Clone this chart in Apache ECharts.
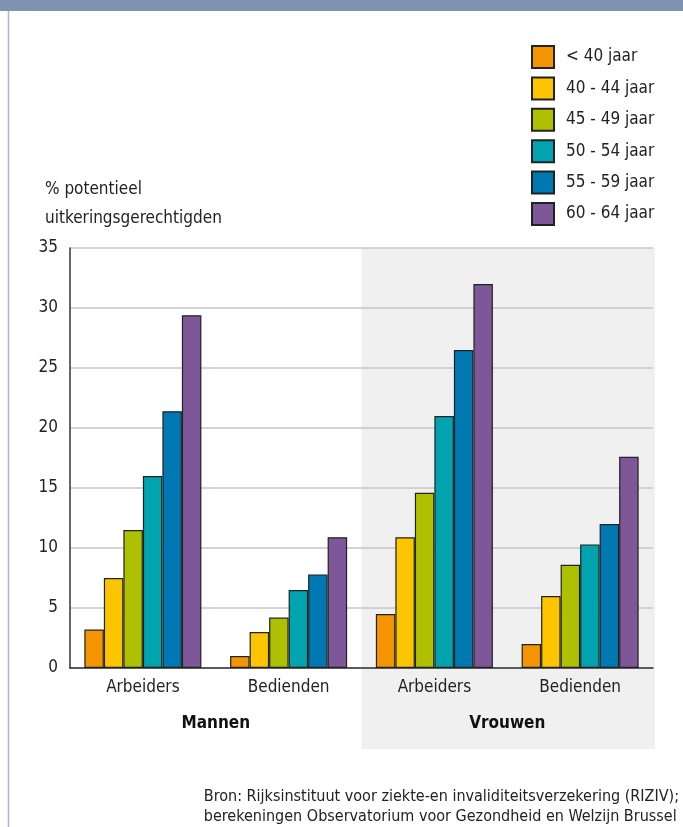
<!DOCTYPE html>
<html>
<head>
<meta charset="utf-8">
<script src="https://cdn.jsdelivr.net/npm/echarts@6/dist/echarts.min.js"></script>
<style>html,body{margin:0;padding:0;background:#fff;}#c{width:683px;height:827px;}</style>
</head>
<body>
<div id="c"></div>
<script>
const categories = ['Arbeiders', 'Bedienden', 'Arbeiders', 'Bedienden'];
const groups = ['Mannen', 'Vrouwen'];
const seriesNames = ['< 40 jaar', '40 - 44 jaar', '45 - 49 jaar', '50 - 54 jaar', '55 - 59 jaar', '60 - 64 jaar'];
const colors = ['#F39400', '#FCC500', '#AEC000', '#00A3AE', '#0078B1', '#7E5799'];
const lt40 = [3.2, 1.0, 4.5, 2.0];
const a40_44 = [7.5, 3.0, 10.9, 6.0];
const a45_49 = [11.5, 4.2, 14.6, 8.6];
const a50_54 = [16.0, 6.5, 21.0, 10.3];
const a55_59 = [21.4, 7.8, 26.5, 12.0];
const a60_64 = [29.4, 10.9, 32.0, 17.6];
const yTicks = [0, 5, 10, 15, 20, 25, 30, 35];
const yTitle = '% potentieel\nuitkeringsgerechtigden';
const source = 'Bron: Rijksinstituut voor ziekte-en invaliditeitsverzekering (RIZIV);\nberekeningen Observatorium voor Gezondheid en Welzijn Brussel';

const FONT = "'Liberation Sans Narrow', 'DejaVu Sans Condensed', sans-serif";
const allData = [lt40, a40_44, a45_49, a50_54, a55_59, a60_64];

const chart = echarts.init(document.getElementById('c'), null, {renderer: 'canvas'});
const option = {
  backgroundColor: '#ffffff',
  animation: false,
  textStyle: {fontFamily: FONT},
  title: {
    text: yTitle,
    left: 40, top: 170,
    textStyle: {fontFamily: FONT, fontSize: 17, fontWeight: 'normal', color: '#222', lineHeight: 29}
  },
  legend: {
    orient: 'vertical',
    left: 531, top: 45,
    padding: 0,
    icon: 'rect',
    itemWidth: 22, itemHeight: 22, itemGap: 7.4,
    textStyle: {fontFamily: FONT, fontSize: 17, color: '#222', lineHeight: 22, padding: [0, 0, 0, 7]},
    data: seriesNames
  },
  grid: {left: 70, right: 30, top: 248, bottom: 159, containLabel: false},
  xAxis: [{
    type: 'category',
    data: categories,
    axisLine: {show: true, lineStyle: {color: '#333', width: 1.5}},
    axisTick: {show: false},
    axisLabel: {fontFamily: FONT, fontSize: 17, color: '#222', margin: 11}
  }, {
    type: 'category',
    position: 'bottom',
    data: groups,
    axisLine: {show: false},
    axisTick: {show: false},
    axisLabel: {fontFamily: FONT, fontSize: 17, fontWeight: 'bold', color: '#111', margin: 47}
  }],
  yAxis: {
    type: 'value',
    min: 0, max: 35, interval: 5,
    axisLine: {show: true, lineStyle: {color: '#333', width: 1.5}},
    axisTick: {show: false},
    axisLabel: {fontFamily: FONT, fontSize: 17, color: '#222', margin: 12,
      formatter: function (v) { return yTicks.indexOf(v) >= 0 ? String(v) : ''; }},
    splitLine: {show: true, lineStyle: {color: '#c6c6c6', width: 1.5}}
  },
  series: seriesNames.map(function (name, i) {
    return {
      name: name,
      type: 'bar',
      xAxisIndex: 0,
      data: allData[i],
      barGap: '0%',
      barCategoryGap: '19.7%',
      itemStyle: {color: colors[i], borderColor: '#222', borderWidth: 1.2},
      z: 3
    };
  })
};
chart.setOption(option);

const gridRect = chart.getModel().getComponent('grid').coordinateSystem.getRect();
chart.setOption({
  graphic: [
    {type: 'rect', z: -100, silent: true,
      shape: {x: gridRect.x + gridRect.width / 2, y: gridRect.y, width: gridRect.width / 2 + 2, height: gridRect.height + 81},
      style: {fill: '#f0f0f0'}},
    {type: 'rect', z: 10, silent: true, shape: {x: 0, y: 0, width: 683, height: 11}, style: {fill: '#7F93B3'}},
    {type: 'line', z: 10, silent: true, shape: {x1: 8.5, y1: 11, x2: 8.5, y2: 827}, style: {stroke: '#a9b8d2', lineWidth: 1.5}},
    {type: 'text', z: 10, right: 4, top: 787,
      style: {text: source, align: 'right', fill: '#222', font: "16px " + FONT, lineHeight: 20}}
  ]
});
</script>
</body>
</html>
